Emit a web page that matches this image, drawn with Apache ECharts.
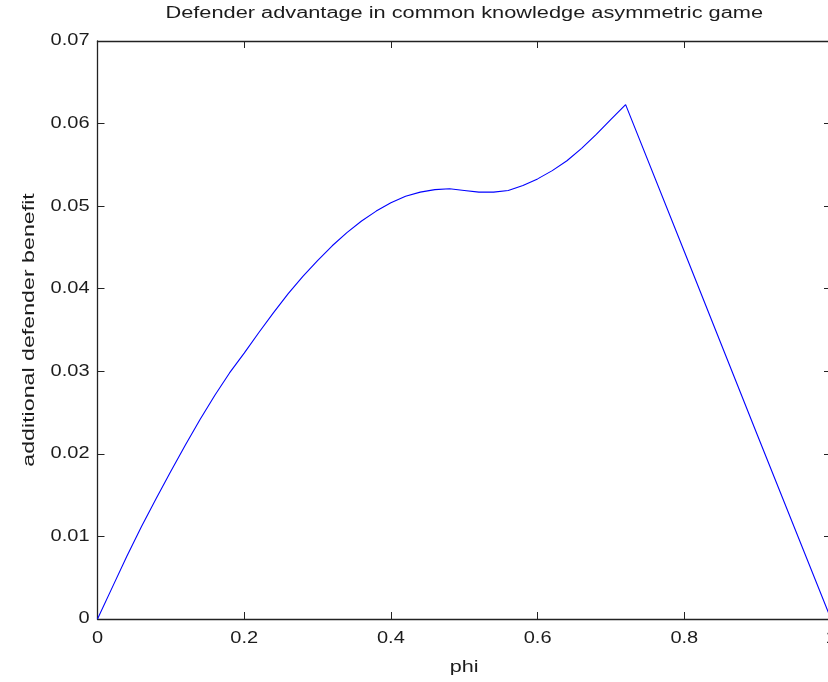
<!DOCTYPE html>
<html>
<head>
<meta charset="utf-8">
<script src="https://cdn.jsdelivr.net/npm/echarts@6/dist/echarts.min.js"></script>
<style>
  html, body { margin: 0; padding: 0; background: #fff; }
  #chart { width: 828px; height: 682px; }
</style>
</head>
<body>
<div id="chart"></div>
<script>
// phi values and the defender benefit curve
const phi = [0, 0.02, 0.04, 0.06, 0.08, 0.10, 0.12, 0.14, 0.16, 0.18, 0.20, 0.22, 0.24, 0.26, 0.28, 0.30,
             0.32, 0.34, 0.36, 0.38, 0.40, 0.42, 0.44, 0.46, 0.48, 0.50, 0.52, 0.54, 0.56, 0.58, 0.60,
             0.62, 0.64, 0.66, 0.68, 0.70, 0.72, 0.80, 0.90, 1.00];
const benefit = [0, 0.0038, 0.0076, 0.0112, 0.0146, 0.0179, 0.0211, 0.0242, 0.0271, 0.0298, 0.0322, 0.0347, 0.0371, 0.0394, 0.0415, 0.0434,
                 0.0452, 0.0468, 0.0482, 0.0494, 0.0504, 0.0512, 0.0517, 0.0520, 0.0521, 0.0519, 0.0517, 0.0517, 0.0519, 0.0525, 0.0533,
                 0.0543, 0.0555, 0.0570, 0.0587, 0.0605, 0.0623, 0.0445, 0.0222, 0.0];

const xTicks = [0, 0.2, 0.4, 0.6, 0.8, 1];
const xTickText = ['0', '0.2', '0.4', '0.6', '0.8', '1'];
const yTicks = [0, 0.01, 0.02, 0.03, 0.04, 0.05, 0.06, 0.07];
const yTickText = ['0', '0.01', '0.02', '0.03', '0.04', '0.05', '0.06', '0.07'];

const titleText = 'Defender advantage in common knowledge asymmetric game';
const xName = 'phi';
const yName = 'additional defender benefit';

const fontFamily = '"Liberation Sans", Arial, Helvetica, sans-serif';
const ink = '#1c1c1c';

const chart = echarts.init(document.getElementById('chart'), null, { renderer: 'canvas' });

function frameAxis(extra) {
  return Object.assign({
    type: 'value',
    axisLine: { show: true, onZero: false, lineStyle: { color: '#222', width: 1.3 } },
    axisTick: { show: true, inside: true, length: 7, lineStyle: { color: '#222', width: 1 } },
    splitLine: { show: false },
    axisLabel: { show: false }
  }, extra);
}

chart.setOption({
  animation: false,
  backgroundColor: '#ffffff',
  grid: { left: 97.5, top: 41, width: 733.5, height: 578, containLabel: false, outerBoundsMode: 'none' },
  xAxis: [
    frameAxis({ position: 'bottom', min: 0, max: 1, interval: 0.2 }),
    frameAxis({ position: 'top', min: 0, max: 1, interval: 0.2 })
  ],
  yAxis: [
    frameAxis({ position: 'left', min: 0, max: 0.07, interval: 0.01 }),
    frameAxis({ position: 'right', min: 0, max: 0.07, interval: 0.01 })
  ],
  series: [{
    type: 'line',
    data: phi.map((p, i) => [p, benefit[i]]),
    showSymbol: false,
    smooth: false,
    lineStyle: { color: '#0000ff', width: 1.1 },
    clip: false
  }]
});

// Text is set in a slightly widened face, placed through the axes' own scales.
function label(text, x, y, size, sx, align, vAlign, rotation) {
  return {
    type: 'text', x: x, y: y, scaleX: sx, rotation: rotation || 0, silent: true,
    style: { text: text, x: 0, y: 0, fill: ink, font: size + 'px ' + fontFamily,
             textAlign: align, textVerticalAlign: vAlign }
  };
}

const yZero = chart.convertToPixel({ yAxisIndex: 0 }, 0);
const yTop = chart.convertToPixel({ yAxisIndex: 0 }, 0.07);
const xLeft = chart.convertToPixel({ xAxisIndex: 0 }, 0);
const xRight = chart.convertToPixel({ xAxisIndex: 0 }, 1);
const xMid = (xLeft + xRight) / 2;
const yMid = (yZero + yTop) / 2;

const graphics = [];
xTicks.forEach((v, i) => {
  graphics.push(label(xTickText[i], chart.convertToPixel({ xAxisIndex: 0 }, v), yZero + 12, 16, 1.25, 'center', 'top'));
});
yTicks.forEach((v, i) => {
  graphics.push(label(yTickText[i], xLeft - 8, chart.convertToPixel({ yAxisIndex: 0 }, v), 16, 1.25, 'right', 'middle'));
});
graphics.push(label(titleText, xMid, yTop - 35, 16, 1.36, 'center', 'top'));
graphics.push(label(xName, xMid, yZero + 41, 16, 1.35, 'center', 'top'));
graphics.push(label(yName, 30, yMid, 16, 1.45, 'center', 'middle', Math.PI / 2));

chart.setOption({ graphic: graphics });
</script>
</body>
</html>
